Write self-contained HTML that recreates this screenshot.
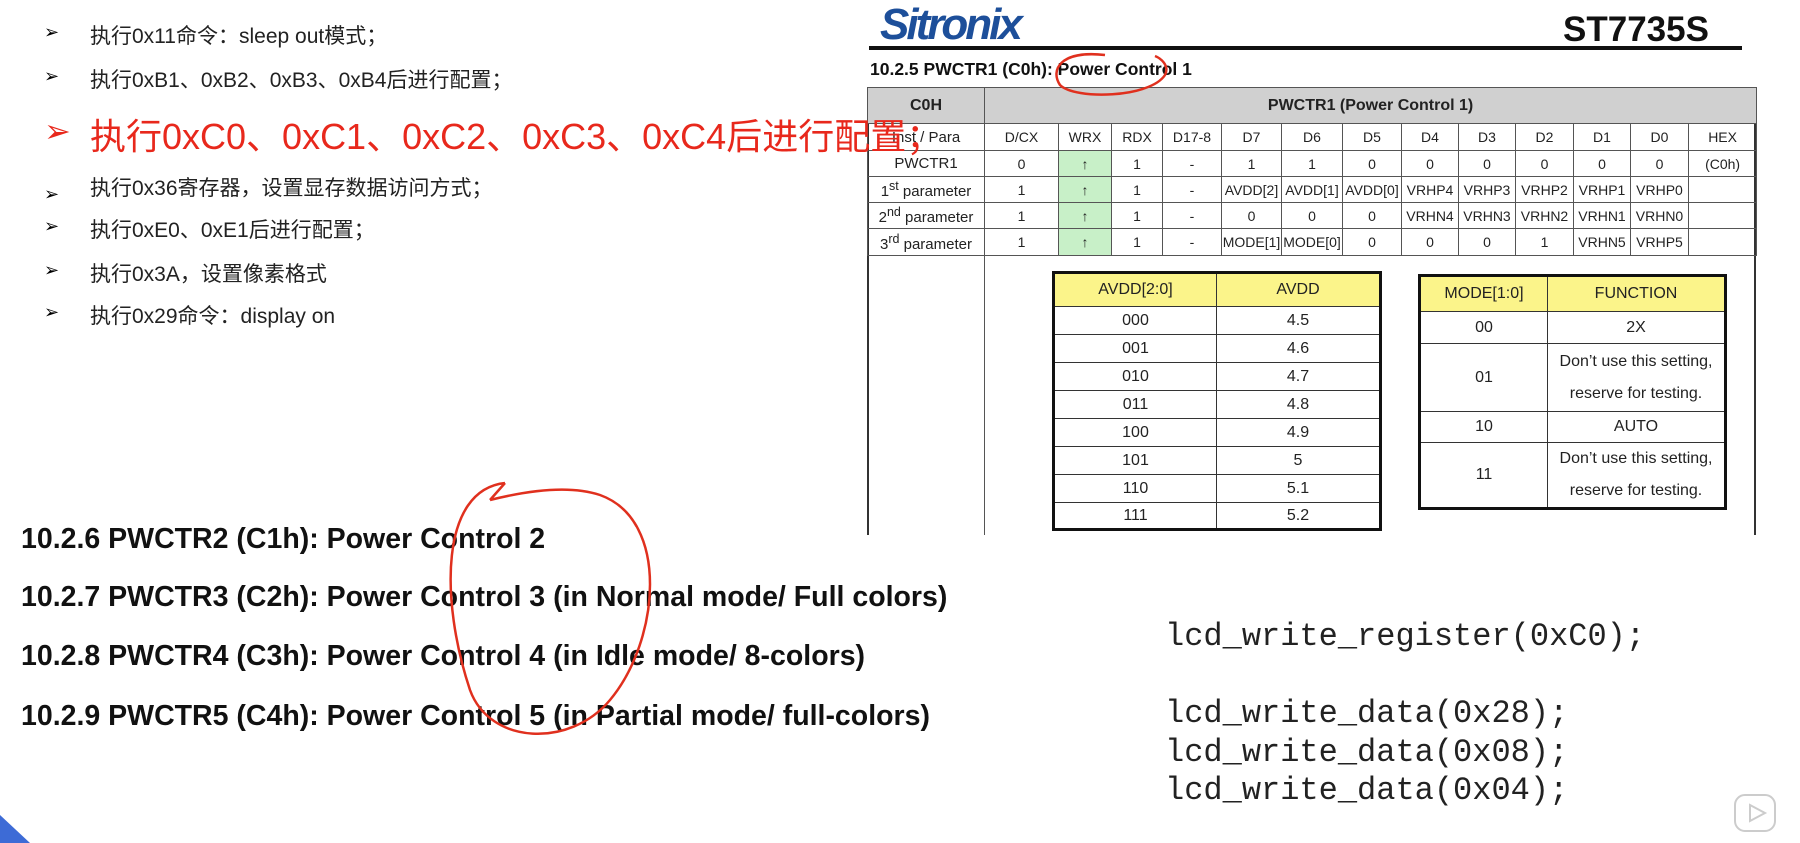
<!DOCTYPE html>
<html><head><meta charset="utf-8"><style>
*{margin:0;padding:0;box-sizing:border-box}
body{width:1800px;height:843px;background:#fff;position:relative;overflow:hidden;font-family:"Liberation Sans","Noto Sans CJK SC",sans-serif}
.a{position:absolute;white-space:nowrap}
.bl{font-size:21px;color:#222;left:90px}
.ar{left:44px;font-size:18px}
table{border-collapse:collapse;table-layout:fixed;position:absolute}
td{border:1px solid #555;text-align:center;font-size:14px;color:#222;padding:0;overflow:hidden;white-space:nowrap}
.t2 td{font-size:16px;border:1px solid #333}
.h{font-size:28.5px;font-weight:bold;color:#111;left:21px}
.c{font-family:"Liberation Mono",monospace;font-size:32px;color:#222;left:1165px}
</style></head><body>
<div class="a ar" style="top:22px">➢</div><div class="a bl" style="top:20px">执行0x11命令：sleep out模式；</div>
<div class="a ar" style="top:66px">➢</div><div class="a bl" style="top:64px">执行0xB1、0xB2、0xB3、0xB4后进行配置；</div>
<div class="a ar" style="top:184px">➢</div><div class="a bl" style="top:172px">执行0x36寄存器，设置显存数据访问方式；</div>
<div class="a ar" style="top:216px">➢</div><div class="a bl" style="top:214px">执行0xE0、0xE1后进行配置；</div>
<div class="a ar" style="top:260px">➢</div><div class="a bl" style="top:258px">执行0x3A，设置像素格式</div>
<div class="a ar" style="top:302px">➢</div><div class="a bl" style="top:300px">执行0x29命令：display on</div>

<div class="a" style="left:880px;top:0px;font-size:44px;font-weight:bold;font-style:italic;color:#1d4f9a;letter-spacing:-3px">Sitronix</div>
<div class="a" style="left:1563px;top:10px;font-size:35px;font-weight:bold;color:#111">ST7735S</div>
<div class="a" style="left:869px;top:46px;width:873px;height:4px;background:#111"></div>
<div class="a" style="left:870px;top:59px;font-size:17.5px;font-weight:bold;color:#111">10.2.5 PWCTR1 (C0h): Power Control 1</div>

<div class="a" style="left:867px;top:87px;width:889px;height:448px;border:2px solid #333;border-bottom:none"></div>
<div class="a" style="left:984px;top:255px;width:1px;height:280px;background:#555"></div>
<table style="left:867px;top:87px;width:889px">
<colgroup><col style="width:117px"><col style="width:74px"><col style="width:53px"><col style="width:51px"><col style="width:59px"><col style="width:60px"><col style="width:61px"><col style="width:59px"><col style="width:57px"><col style="width:57px"><col style="width:58px"><col style="width:57px"><col style="width:58px"><col style="width:68px"></colgroup>
<tr style="height:36px;background:#d0d0d0"><td style="font-weight:bold;font-size:16px">C0H</td><td colspan="13" style="font-weight:bold;font-size:16px">PWCTR1 (Power Control 1)</td></tr>
<tr style="height:27px"><td style="font-size:15px">Inst / Para</td><td>D/CX</td><td>WRX</td><td>RDX</td><td>D17-8</td><td>D7</td><td>D6</td><td>D5</td><td>D4</td><td>D3</td><td>D2</td><td>D1</td><td>D0</td><td>HEX</td></tr>
<tr style="height:26px"><td style="font-size:15px">PWCTR1</td><td>0</td><td style="background:#c8f0c8">↑</td><td>1</td><td>-</td><td>1</td><td>1</td><td>0</td><td>0</td><td>0</td><td>0</td><td>0</td><td>0</td><td>(C0h)</td></tr>
<tr style="height:26px"><td style="font-size:15px">1<sup>st</sup> parameter</td><td>1</td><td style="background:#c8f0c8">↑</td><td>1</td><td>-</td><td>AVDD[2]</td><td>AVDD[1]</td><td>AVDD[0]</td><td>VRHP4</td><td>VRHP3</td><td>VRHP2</td><td>VRHP1</td><td>VRHP0</td><td></td></tr>
<tr style="height:26px"><td style="font-size:15px">2<sup>nd</sup> parameter</td><td>1</td><td style="background:#c8f0c8">↑</td><td>1</td><td>-</td><td>0</td><td>0</td><td>0</td><td>VRHN4</td><td>VRHN3</td><td>VRHN2</td><td>VRHN1</td><td>VRHN0</td><td></td></tr>
<tr style="height:27px"><td style="font-size:15px">3<sup>rd</sup> parameter</td><td>1</td><td style="background:#c8f0c8">↑</td><td>1</td><td>-</td><td>MODE[1]</td><td>MODE[0]</td><td>0</td><td>0</td><td>0</td><td>1</td><td>VRHN5</td><td>VRHP5</td><td></td></tr>
</table>

<table class="t2" style="left:1052px;top:271px;width:327px;border:3px solid #111">
<colgroup><col style="width:163px"><col style="width:164px"></colgroup>
<tr style="height:34px;background:#fbf48a"><td>AVDD[2:0]</td><td>AVDD</td></tr>
<tr style="height:28px"><td>000</td><td>4.5</td></tr><tr style="height:28px"><td>001</td><td>4.6</td></tr>
<tr style="height:28px"><td>010</td><td>4.7</td></tr><tr style="height:28px"><td>011</td><td>4.8</td></tr>
<tr style="height:28px"><td>100</td><td>4.9</td></tr><tr style="height:28px"><td>101</td><td>5</td></tr>
<tr style="height:28px"><td>110</td><td>5.1</td></tr><tr style="height:27px"><td>111</td><td>5.2</td></tr>
</table>
<table class="t2" style="left:1418px;top:274px;width:306px;border:3px solid #111">
<colgroup><col style="width:128px"><col style="width:178px"></colgroup>
<tr style="height:36px;background:#fbf48a"><td>MODE[1:0]</td><td>FUNCTION</td></tr>
<tr style="height:32px"><td>00</td><td>2X</td></tr>
<tr style="height:68px"><td>01</td><td style="line-height:32px">Don’t use this setting,<br>reserve for testing.</td></tr>
<tr style="height:31px"><td>10</td><td>AUTO</td></tr>
<tr style="height:65px"><td>11</td><td style="line-height:32px">Don’t use this setting,<br>reserve for testing.</td></tr>
</table>

<div class="a" style="left:44px;top:112px;font-size:32px;color:#e8281c;z-index:3">➢</div>
<div class="a" style="left:90px;top:108px;font-size:36px;color:#e8281c;z-index:3">执行0xC0、0xC1、0xC2、0xC3、0xC4后进行配置；</div>

<div class="a h" style="top:523px">10.2.6 PWCTR2 (C1h): Power Control 2</div>
<div class="a h" style="top:581px">10.2.7 PWCTR3 (C2h): Power Control 3 (in Normal mode/ Full colors)</div>
<div class="a h" style="top:640px">10.2.8 PWCTR4 (C3h): Power Control 4 (in Idle mode/ 8-colors)</div>
<div class="a h" style="top:700px">10.2.9 PWCTR5 (C4h): Power Control 5 (in Partial mode/ full-colors)</div>

<div class="a c" style="top:618px">lcd_write_register(0xC0);</div>
<div class="a c" style="top:695px">lcd_write_data(0x28);</div>
<div class="a c" style="top:734px">lcd_write_data(0x08);</div>
<div class="a c" style="top:772px">lcd_write_data(0x04);</div>

<svg class="a" style="left:0;top:0;z-index:4" width="1800" height="843">
<path d="M1105,55 C1060,50 1050,70 1060,85 C1075,100 1150,98 1165,75 C1170,65 1160,58 1155,56" fill="none" stroke="#e0301e" stroke-width="2.5"/>
<path d="M505,483 C440,490 440,600 470,690 C490,745 570,748 610,700 C660,640 670,520 600,495 C570,485 530,490 490,500 M505,483 L490,500" fill="none" stroke="#e0301e" stroke-width="2.5"/>
<path d="M0,843 L0,815 L30,843 Z" fill="#3d6bd6"/>
<rect x="1735" y="795" width="40" height="36" rx="10" fill="none" stroke="#ccc" stroke-width="2"/>
<path d="M1750,805 L1765,813 L1750,821 Z" fill="none" stroke="#ccc" stroke-width="2"/>
</svg>
</body></html>
